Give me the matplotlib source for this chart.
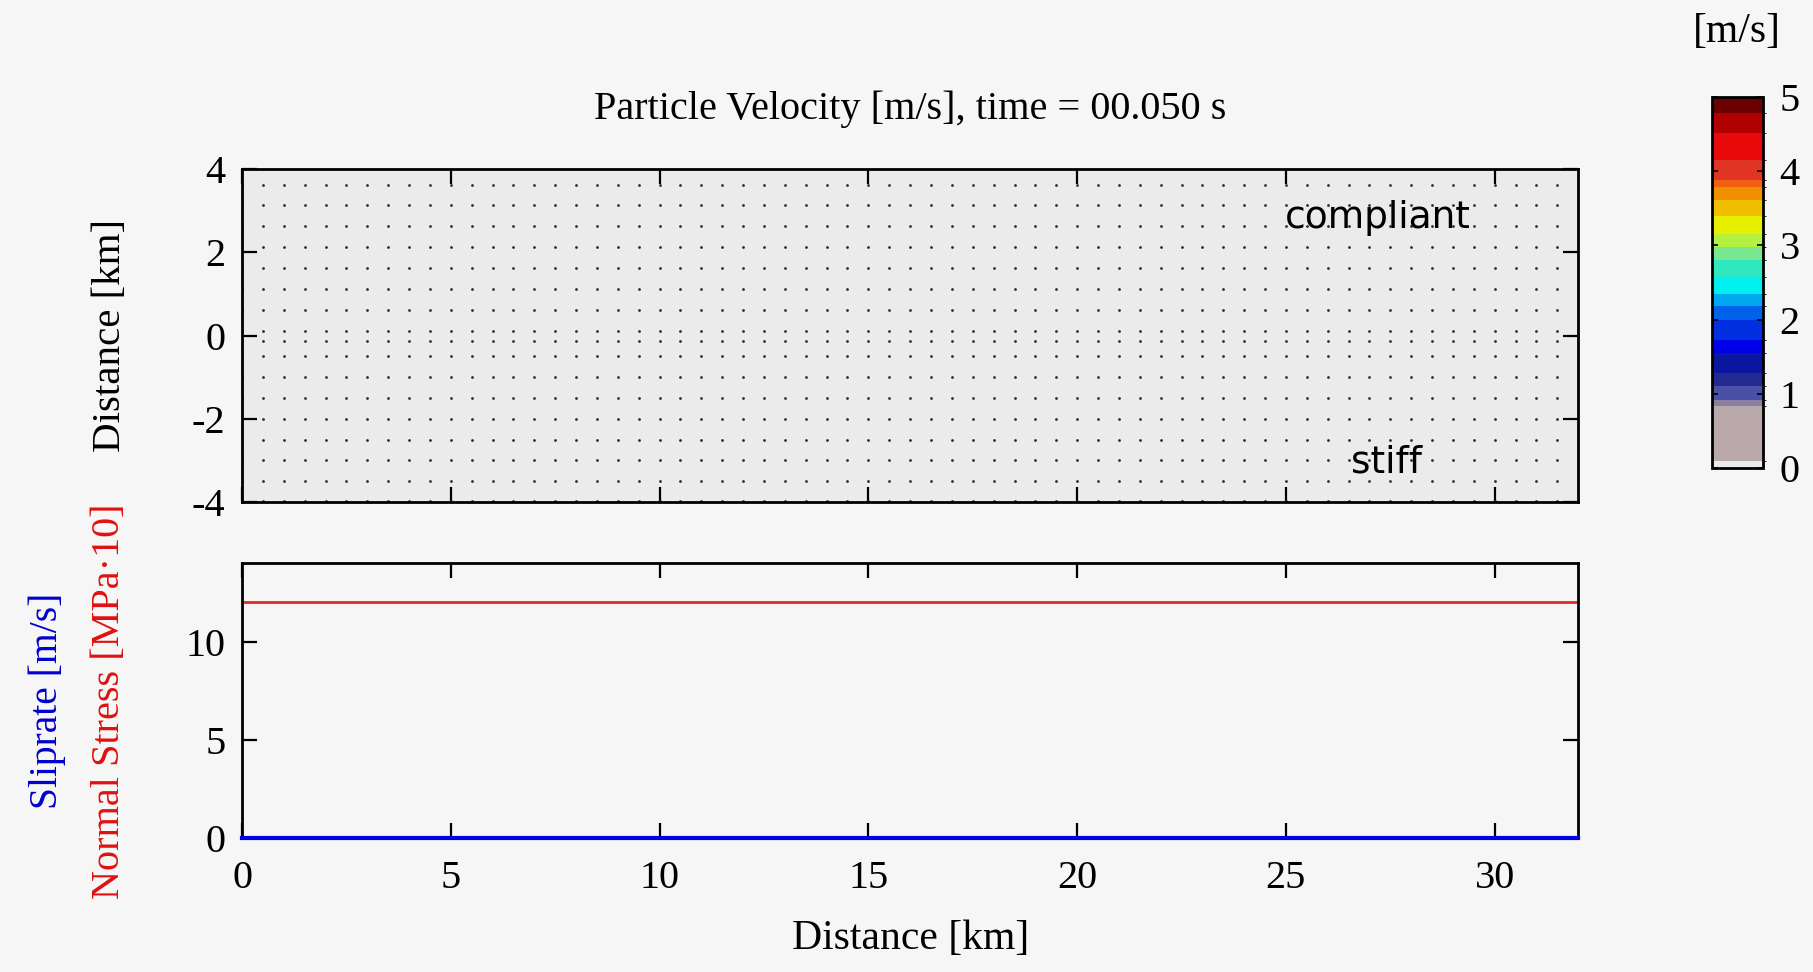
import numpy as np
import matplotlib
matplotlib.use("Agg")
import matplotlib.pyplot as plt
from matplotlib.colors import ListedColormap, BoundaryNorm

plt.rcParams["font.family"] = ["Liberation Serif", "DejaVu Serif"]
plt.rcParams["axes.unicode_minus"] = False

# --- data ---
time_s = 0.050
x_km = np.arange(0, 32.5, 0.5)          # fault-parallel distance samples
normal_stress = np.full_like(x_km, 12.0)  # MPa*10
sliprate = np.zeros_like(x_km)            # m/s
velocity = np.zeros((16, 64))             # particle velocity field, m/s

# receiver grid (km)
rec_x = np.arange(0, 32.0, 0.5)
rec_y = np.array([3.625, 3.125, 2.625, 2.125, 1.625, 1.125, 0.625, 0.1,
                  -0.125, -0.5, -1.0, -1.5, -2.0, -2.5, -3.0, -3.5, -3.98])

x_ticks = [0, 5, 10, 15, 20, 25, 30]
y_ticks_top = [-4, -2, 0, 2, 4]
y_ticks_bot = [0, 5, 10]
cbar_ticks = [0, 1, 2, 3, 4, 5]

# colour scale of the velocity map
cbar_bounds = [0, 0.09, 0.83, 0.92, 1.10, 1.28, 1.55, 1.73, 2.0, 2.18, 2.35,
               2.58, 2.80, 2.98, 3.16, 3.39, 3.61, 3.79, 3.88, 4.15, 4.51,
               4.78, 5.0]
cbar_colors = ["#ebebeb", "#b9a9aa", "#8a80a2", "#4a50a8", "#202a90",
               "#0a16a0", "#0000e8", "#0030e0", "#0062e8", "#00a8f0",
               "#00f0f0", "#30e8c0", "#78e890", "#b4f040", "#e8f000",
               "#f0c000", "#f09000", "#f06010", "#e03525", "#e80a0a",
               "#b00000", "#6a0000"]

bg = "#f6f6f6"
fig = plt.figure(figsize=(18.13, 9.72), dpi=100, facecolor=bg)

ax1 = fig.add_axes([0.1335, 0.4835, 0.737, 0.3426])
ax2 = fig.add_axes([0.1335, 0.1379, 0.737, 0.2829])
cax = fig.add_axes([0.9443, 0.5185, 0.0281, 0.3817])

cmap = ListedColormap(cbar_colors)
norm = BoundaryNorm(cbar_bounds, cmap.N)

im = ax1.imshow(velocity, cmap=cmap, norm=norm, extent=[0, 32, -4, 4],
                aspect="auto", origin="lower", interpolation="nearest")
gx, gy = np.meshgrid(rec_x, rec_y)
ax1.plot(gx.ravel(), gy.ravel(), "o", ms=2.0, mew=0, color="#2a2a3a")
ax1.set_xlim(0, 32)
ax1.set_ylim(-4, 4)
ax1.set_xticks(x_ticks)
ax1.set_xticklabels([])
ax1.set_yticks(y_ticks_top)
ax1.set_title("Particle Velocity [m/s], time = %06.3f s" % time_s,
              fontsize=29, pad=36)
ax1.text(27.2, 2.82, "compliant", fontsize=27, family="DejaVu Sans",
         ha="center", va="center")
ax1.text(27.4, -3.05, "stiff", fontsize=27, family="DejaVu Sans",
         ha="center", va="center")

ax2.set_facecolor(bg)
ax2.plot(x_km, normal_stress, color="#e02828", lw=2.0)
ax2.plot(x_km, sliprate, color="#0000e0", lw=3, clip_on=False, zorder=3)
ax2.set_xlim(0, 32)
ax2.set_ylim(0, 14)
ax2.set_xticks(x_ticks)
ax2.set_yticks(y_ticks_bot)
ax2.set_xlabel("Distance [km]", fontsize=30, labelpad=16)

for ax in (ax1, ax2):
    for s in ax.spines.values():
        s.set_linewidth(2)
    ax.tick_params(direction="in", length=11, width=1.6, top=True, right=True,
                   labelsize=29, pad=12)
ax2.tick_params(axis="x", pad=16)

fig.text(0.061, 0.655, "Distance [km]", rotation=90, fontsize=29.5,
         ha="center", va="center")
fig.text(0.0605, 0.279, "Normal Stress [MPa\u00b710]", rotation=90, fontsize=29,
         color="#e01010", ha="center", va="center")
fig.text(0.026, 0.279, "Sliprate [m/s]", rotation=90, fontsize=28.5,
         color="#0000d0", ha="center", va="center")

cb = fig.colorbar(im, cax=cax, ticks=cbar_ticks, spacing="proportional")
cb.outline.set_linewidth(2)
cax.tick_params(direction="in", length=4, width=1.2, labelsize=29, pad=12,
                left=True, right=True)
cax.set_yticklabels([str(t) for t in cbar_ticks])
fig.text(0.958, 0.967, "[m/s]", fontsize=30, ha="center", va="center")

fig.savefig("out.png", dpi=100, facecolor=bg)
